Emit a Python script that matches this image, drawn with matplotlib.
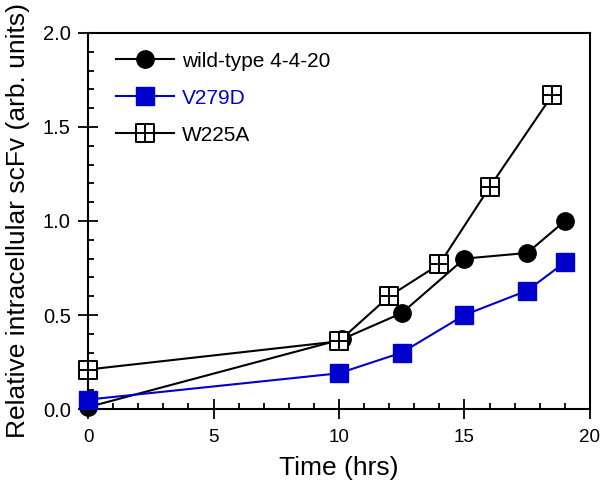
import matplotlib
matplotlib.use("Agg")
import matplotlib.pyplot as plt
from matplotlib.path import Path
from matplotlib.ticker import MultipleLocator, FormatStrFormatter

# wild-type 4-4-20
wt_t = [0, 10.1, 12.5, 15, 17.5, 19]
wt_y = [0.01, 0.37, 0.51, 0.80, 0.83, 1.00]
# V279D
v_t = [0, 10, 12.5, 15, 17.5, 19]
v_y = [0.05, 0.19, 0.30, 0.50, 0.63, 0.78]
# W225A
w_t = [0, 10, 12, 14, 16, 18.5]
w_y = [0.21, 0.36, 0.60, 0.77, 1.18, 1.67]

BLUE = "#0000cc"

# square with a cross inside
crossed_sq = Path(
    [(-1, -1), (1, -1), (1, 1), (-1, 1), (-1, -1),
     (0, -1), (0, 1), (-1, 0), (1, 0)],
    [Path.MOVETO, Path.LINETO, Path.LINETO, Path.LINETO, Path.CLOSEPOLY,
     Path.MOVETO, Path.LINETO, Path.MOVETO, Path.LINETO])

plt.rcParams.update({"font.family": "Liberation Sans"})
fig = plt.figure(figsize=(6.0, 4.83), dpi=100)
ax = fig.add_axes([0.1467, 0.1532, 0.8366, 0.7785])

ax.plot(wt_t, wt_y, color="black", lw=1.5, marker="o", ms=12.5,
        label="wild-type 4-4-20", clip_on=False, zorder=3)
ax.plot(v_t, v_y, color=BLUE, lw=1.5, marker="s", ms=13.5,
        mfc=BLUE, mec=BLUE, label="V279D", clip_on=False, zorder=3)
ax.plot(w_t, w_y, color="black", lw=1.5, marker=crossed_sq, ms=12.5,
        mfc="white", mec="black", mew=1.4, label="W225A", clip_on=False, zorder=4)

ax.set_xlim(0, 20)
ax.set_ylim(0, 2.0)
ax.xaxis.set_major_locator(MultipleLocator(5))
ax.xaxis.set_minor_locator(MultipleLocator(1))
ax.yaxis.set_major_locator(MultipleLocator(0.5))
ax.yaxis.set_minor_locator(MultipleLocator(0.1))
ax.yaxis.set_major_formatter(FormatStrFormatter("%.1f"))
ax.tick_params(which="major", direction="inout", length=15, width=1.3)
ax.tick_params(axis="y", which="major", pad=5, labelsize=14.5)
ax.tick_params(axis="x", which="major", pad=7, labelsize=13.5)
ax.tick_params(which="minor", direction="in", length=4.5, width=1.3)
for s in ax.spines.values():
    s.set_linewidth(1.5)

ax.set_xlabel("Time (hrs)", fontsize=19, labelpad=7)
ax.set_ylabel("Relative intracellular scFv (arb. units)", fontsize=19, labelpad=9)

leg = ax.legend(loc="upper left", frameon=False, fontsize=15,
                bbox_to_anchor=(0.056, 0.95), handlelength=2.8,
                handletextpad=0.35, labelspacing=0.86, borderaxespad=0,
                borderpad=0)
leg.get_texts()[1].set_color(BLUE)

fig.savefig("out.png", dpi=100)
